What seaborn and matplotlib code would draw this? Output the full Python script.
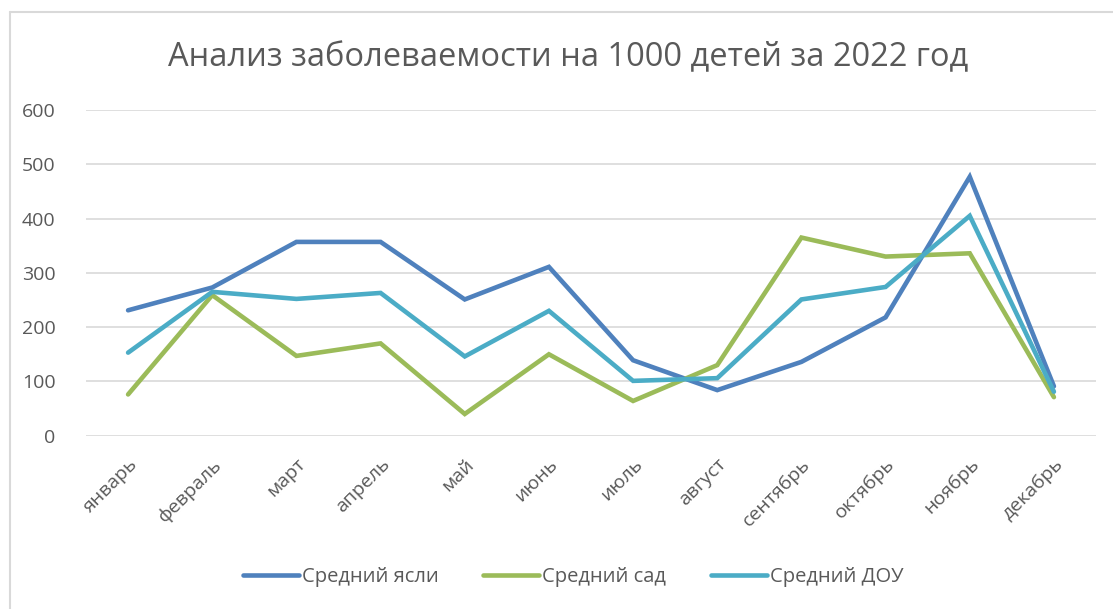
import matplotlib
matplotlib.use("Agg")
import matplotlib.pyplot as plt
import seaborn as sns
import pandas as pd
from matplotlib.lines import Line2D

months = ["январь", "февраль", "март", "апрель", "май", "июнь", "июль",
          "август", "сентябрь", "октябрь", "ноябрь", "декабрь"]
yasli = [231, 273, 357, 357, 251, 311, 139, 84, 136, 218, 477, 91]
sad = [76, 259, 147, 170, 40, 150, 64, 130, 365, 330, 336, 71]
dou = [153, 265, 252, 263, 146, 230, 101, 106, 251, 274, 405, 81]
series_names = ["Средний ясли", "Средний сад", "Средний ДОУ"]
colors = ["#4F81BD", "#9BBB59", "#4BACC6"]

sns.set_theme(style="white")
plt.rcParams['font.family'] = ['Open Sans', 'DejaVu Sans']

rows = []
for name, vals in zip(series_names, [yasli, sad, dou]):
    for i, (m, v) in enumerate(zip(months, vals)):
        rows.append({"idx": i, "month": m, "value": v, "series": name})
df = pd.DataFrame(rows)

W, H = 1113, 609
fig = plt.figure(figsize=(W / 100, H / 100), dpi=100)
ax = fig.add_axes([86 / W, 1 - 435.7 / H, (1096 - 86) / W, (435.7 - 110) / H])

sns.lineplot(data=df, x="idx", y="value", hue="series", palette=colors,
             hue_order=series_names, linewidth=3.3, sort=False, ax=ax,
             legend=False, solid_capstyle="round", solid_joinstyle="miter")

ax.set_xlim(-0.5, 11.5)
ax.set_ylim(0, 600)
ax.set_yticks(range(0, 601, 100))
ax.set_xticks(range(len(months)))
ax.set_xticklabels(months, rotation=45, ha="right", rotation_mode="anchor",
                   fontsize=14, color="#595959")
ax.tick_params(axis="y", labelsize=14, labelcolor="#595959", length=0, pad=22)
ax.tick_params(axis="x", length=0, pad=14)
ax.grid(axis="y", color="#D9D9D9", linewidth=1.2)
ax.set_axisbelow(True)
for s in ax.spines.values():
    s.set_visible(False)
ax.set_xlabel("")
ax.set_ylabel("")

fig.text(568 / W, 1 - 58 / H, "Анализ заболеваемости на 1000 детей за 2022 год",
         ha="center", va="center", fontsize=23.5, color="#595959")

handles = [Line2D([0], [0], color=c, lw=3.3, solid_capstyle="round") for c in colors]
fig.legend(handles, series_names, loc="center", bbox_to_anchor=(573 / W, 1 - 577 / H),
           ncol=3, frameon=False, fontsize=14.5, handlelength=2.8,
           handletextpad=0.15, columnspacing=2.2, labelcolor="#595959")

# chart-area border (top and left visible in the reference)
fig.add_artist(Line2D([9.5 / W, 1], [1 - 11.5 / H, 1 - 11.5 / H], transform=fig.transFigure,
                      color="#D9D9D9", linewidth=1.5))
fig.add_artist(Line2D([9.5 / W, 9.5 / W], [0, 1 - 11.5 / H], transform=fig.transFigure,
                      color="#D9D9D9", linewidth=1.5))

fig.savefig("out.png", dpi=100)
